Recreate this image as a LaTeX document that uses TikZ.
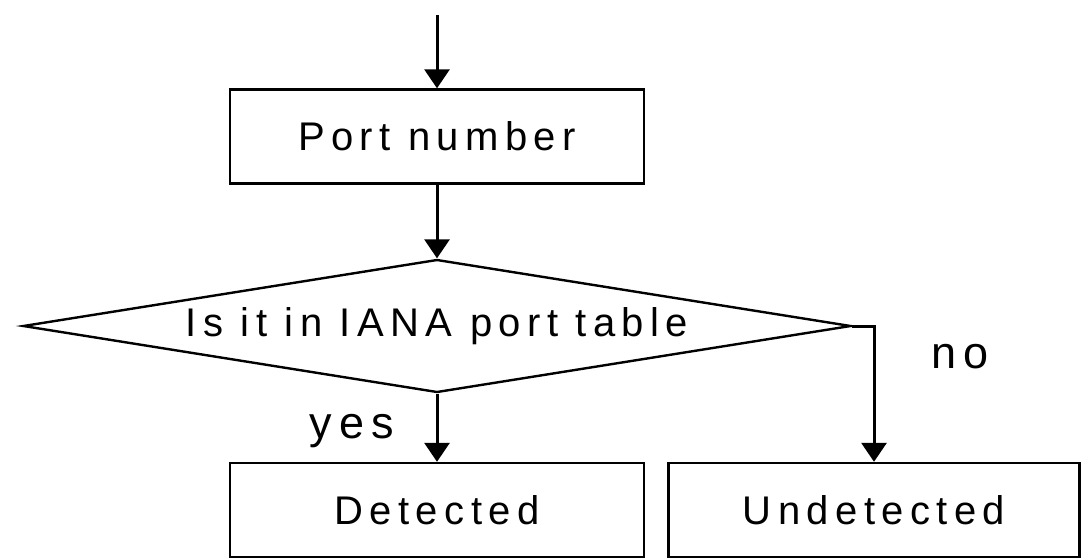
\documentclass[tikz,border=0pt]{standalone}
\usepackage{fontspec}
\usepackage{tikz}
\usetikzlibrary{arrows.meta,shapes.geometric,positioning,calc}
\newfontfamily\flowfont[LetterSpace=16]{Liberation Sans}

\tikzset{
  flowbox/.style={draw, line width=2.4pt, minimum width=414pt, minimum height=94pt, inner sep=0pt,
    font=\flowfont\fontsize{40}{44}\selectfont},
  flowtest/.style={draw, line width=2.4pt, diamond, aspect=6.2, minimum width=828pt, minimum height=133pt,
    inner sep=0pt, font=\flowfont\fontsize{40}{44}\selectfont},
  flowarrow/.style={line width=3pt, -{Triangle[width=25pt,length=19pt]}},
  flowlabel/.style={font=\flowfont\fontsize{45}{48}\selectfont, inner sep=0pt}
}

\begin{document}
\begin{tikzpicture}[x=1pt,y=-1pt]
				\useasboundingbox (0,0) rectangle (1083,558);
				\coordinate (start) at (437,15);
				\node[flowbox] (port) at (437,136.5) {Port number};
				\node[flowtest] (iana) at (437,326) {Is it in IANA port table};
				\node[flowbox] (det) at (437,510) {Detected};
				\node[flowbox, minimum width=411pt] (undet) at (874,510) {Undetected};
				\draw[flowarrow] (start) -- (port.north);
				\draw[flowarrow] (port.south) -- (iana.north);
				\draw[flowarrow] (iana.south) -- (det.north);
				\draw[flowarrow] (iana.east) -| (undet.north);
				\node[flowlabel, anchor=base] (yes) at (352,438) {yes};
				\node[flowlabel, anchor=base] (no) at (960,368) {no};
			\end{tikzpicture}
\end{document}
